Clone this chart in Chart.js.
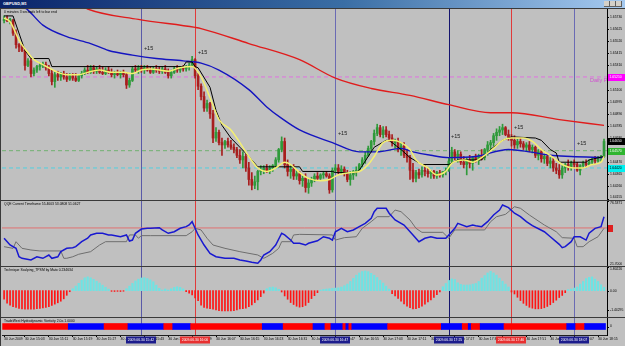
<!DOCTYPE html>
<html>
<head>
<meta charset="utf-8">
<title>GBPUSD,M1</title>
<script src="https://cdn.jsdelivr.net/npm/chart.js@4.4.1/dist/chart.umd.min.js"></script>
<style>
  html, body { margin: 0; padding: 0; background: #3a3a3a; }
  #wrap { position: relative; width: 625px; height: 346px; overflow: hidden; background: #3a3a3a; }
  #titlebar { position: absolute; left: 0; top: 0; width: 625px; height: 8px;
    background: linear-gradient(90deg, #0a246a 0%, #3a6ea5 55%, #a6caf0 100%); }
  #titlebar span { position: absolute; left: 3px; top: 1px; font: bold 4px "Liberation Sans", sans-serif; color: #fff; }
  .btn { position: absolute; top: 1px; width: 5px; height: 5px; background: #d4d0c8; border-right: 1px solid #606060; border-bottom: 1px solid #606060; }
  canvas { position: absolute; left: 1px; background: #c0c0c0; }
</style>
</head>
<body>
<div id="wrap">
  <div id="titlebar"><span>GBPUSD,M1</span>
    <div class="btn" style="left:604px"></div><div class="btn" style="left:610px"></div><div class="btn" style="left:616px"></div>
  </div>
  <canvas id="main" width="624" height="191" style="top:9px"></canvas>
  <canvas id="qqe" width="624" height="65" style="top:201px"></canvas>
  <canvas id="scalp" width="624" height="50" style="top:267px"></canvas>
  <canvas id="hydro" width="624" height="28" style="top:318px"></canvas>
</div>
<script>
// ---- data (main panel prices in pips above 1.64000, one entry per M1 bar) ----
const opens = [
  170,171,169,170,159,149,147,144,131,135, 124,127,130,131,132,129,124,117,123,121,
  124,121,119,122,120,118,122,124,127,125, 129,126,128,125,124,127,125,123,124,123,
  125,123,114,118,128,127,129,127,129,127, 125,128,127,126,128,125,122,125,128,127,
  129,128,130,131,136,122,113,104,94,98, 89,68,73,64,62,65,62,60,58,53,
  49,52,42,32,27,30,39,40,42,39, 42,44,49,58,65,45,39,41,35,37,
  31,33,25,29,32,35,33,36,37,35, 23,40,42,39,41,37,32,36,39,40,
  45,49,53,59,65,72,77,71,75,71, 68,64,65,58,61,53,51,40,33,38,
  36,40,39,37,39,35,38,36,39,40, 48,56,52,54,47,45,49,46,51,49,
  52,51,58,62,64,70,73,75,77,71, 68,66,62,65,63,60,62,58,60,53,
  56,50,52,46,48,42,40,36,42,45, 43,46,45,40,44,46,45,47,49,48,
  51,52
];
const highs = [
  174,174,172,171,162,150,149,145,137,137, 129,131,133,134,134,131,127,125,126,125,
  126,124,124,124,124,123,126,129,131,131, 131,130,131,130,129,130,128,126,127,126,
  127,125,120,130,131,131,131,131,131,130, 130,131,130,130,131,128,127,130,131,130,
  131,131,133,139,137,124,115,108,101,99, 92,77,75,68,66,68,66,63,60,58,
  56,54,47,38,35,40,44,44,45,44, 45,51,59,69,68,49,44,45,40,39,
  35,37,32,34,37,38,37,39,39,37, 42,45,45,44,43,40,39,40,43,46,
  51,56,61,66,75,80,79,78,78,74, 71,67,68,64,64,58,53,46,40,41,
  43,44,42,40,40,39,40,39,42,51, 60,58,57,56,52,51,53,52,54,54,
  58,59,65,66,72,76,78,80,78,75, 71,70,67,68,65,64,65,62,61,58,
  58,54,54,51,51,46,45,44,46,49, 48,49,47,45,48,49,49,51,52,52,
  53,67
];
const lows = [
  168,169,167,157,146,143,143,127,130,121, 122,125,127,129,127,122,114,112,118,118,
  119,117,118,118,117,117,120,123,124,124, 124,124,124,123,123,124,121,120,122,120,
  121,111,112,117,125,124,125,124,126,124, 124,125,124,124,124,120,120,124,125,125,
  126,126,127,130,120,110,101,91,91,85, 64,65,62,53,59,60,58,55,51,46,
  42,39,27,23,24,23,36,37,38,37, 39,42,47,56,42,35,33,32,32,28,
  26,21,20,26,30,31,32,33,34,20, 21,38,37,37,35,30,27,32,35,39,
  43,46,52,56,62,70,69,68,69,65, 61,59,56,53,51,47,32,30,30,33,
  34,35,34,33,33,33,34,34,36,39, 46,49,47,45,42,36,42,40,47,45,
  49,49,53,58,61,66,70,71,70,66, 61,59,59,60,58,57,56,55,51,49,
  47,46,44,42,39,37,33,33,38,40, 40,42,39,36,42,43,44,45,46,47,
  48,51
];
const closes = [
  171,170,171,159,149,147,144,131,135,124, 127,130,131,132,129,124,117,123,121,124,
  121,119,122,120,118,122,124,127,125,129, 126,128,125,124,127,125,123,124,123,125,
  123,114,118,128,127,129,127,129,127,125, 128,127,126,128,125,122,125,128,127,129,
  128,130,131,136,122,113,104,94,98,89, 68,73,64,62,65,62,60,58,53,49,
  52,42,32,27,30,39,40,42,39,42, 44,49,58,65,45,39,41,35,37,31,
  33,25,29,32,35,33,36,37,35,23, 40,42,39,41,37,32,36,39,40,45,
  49,53,59,65,72,77,71,75,71,68, 64,65,58,61,53,51,40,33,38,36,
  40,39,37,39,35,38,36,39,40,48, 56,52,54,47,45,49,46,51,49,52,
  51,58,62,64,70,73,75,77,71,68, 66,62,65,63,60,62,58,60,53,56,
  50,52,46,48,42,40,36,42,45,43, 46,45,40,44,46,45,47,49,48,51,
  52,65
];

// indicator lines on the price panel: [bar, pips]
const yellowMA = [[0,172],[2,169],[5,153],[8,142],[10,136],[12,133],[15,129],[18,125],[21,123],[25,123],
  [28,125],[32,127],[36,125],[40,125],[43,124],[46,127],[49,128],[55,126],[59,129],[63,130],[66,121],
  [69,103],[72,84],[76,75],[79,64],[82,52],[85,42],[88,39],[91,42],[94,47],[96,45],[99,38],[102,33],
  [106,31],[109,32],[112,36],[116,38],[119,39],[122,45],[124,52],[127,64],[130,66],[133,64],[136,58],
  [138,49],[142,42],[145,36],[148,39],[150,46],[154,49],[157,47],[160,51],[164,59],[167,66],[170,68],
  [174,68],[177,65],[180,58],[184,51],[187,45],[191,42],[194,42],[197,45],[200,47],[201,52]];
const stepLine = [[0,174],[3,174],[7,144],[9,137],[15,137],[16,130],[60,130],[61,134],[63,134],[64,130],
  [65,129],[69,112],[71,92],[73,79],[76,68],[79,60],[82,52],[85,43],[99,43],[100,39],[110,39],[111,38],
  [118,38],[119,40],[124,60],[128,66],[129,66],[133,58],[136,51],[140,45],[149,45],[152,49],[160,49],
  [163,58],[167,66],[170,69],[178,68],[180,66],[183,58],[185,55],[186,47],[195,47],[196,49],[201,52]];
const blueMA = [[3,188],[8,179],[13,166],[21,156],[29,150],[35,144],[43,140],[51,137],[60,135],[66,133],
  [72,127],[82,110],[88,95],[93,85],[99,75],[110,64],[119,56],[125,56],[133,59],[137,56],[143,53],
  [149,51],[158,52],[169,58],[176,56],[183,53],[190,52],[201,51]];
const redMA = [[20,192],[28,180],[45,171],[64,164],[66,163],[82,150],[99,136],[111,120],[123,111],
  [136,105],[149,97],[163,90],[170,90],[186,84],[201,79]];

const pivotLevel = 121, greenLevel = 57, cyanLevel = 42;
const priceTicks = ['1.65730','1.65625','1.65520','1.65415','1.65310','1.65205','1.65100','1.64995',
  '1.64890','1.64785','1.64680','1.64575','1.64470','1.64365','1.64260','1.64155'];
const plusBars = [46.5, 64.6, 111.5, 149.4, 170.5, 191.6];
const plusPips = [146, 142, 72, 69, 77, 63];

// QQE panel: [bar, value]
const qqeFast = [[0,45.1],[2,39.4],[4,36.6],[5,29.5],[6,28.2],[9,26.8],[11,29.5],[13,28.2],[15,31.0],[16,28.2],
  [18,29.5],[19,33.8],[21,36.6],[23,37.1],[24,38.0],[26,42.2],[28,45.1],[29,47.9],[31,49.3],[33,49.3],
  [35,47.9],[36,47.9],[39,46.4],[41,47.9],[42,42.8],[43,43.6],[44,49.3],[46,52.9],[48,53.5],[49,53.5],
  [52,54.0],[53,52.1],[55,49.3],[57,50.6],[59,53.5],[61,54.9],[62,56.3],[63,59.1],[64,53.5],[65,47.9],
  [67,39.4],[69,32.4],[71,29.5],[74,28.2],[77,28.2],[79,26.8],[81,25.9],[83,24.8],[85,24.0],[86,26.8],
  [87,31.0],[89,33.8],[91,39.4],[93,49.3],[94,47.9],[96,43.6],[97,40.9],[99,40.9],[101,39.4],[102,40.9],
  [105,43.0],[107,46.4],[109,45.1],[110,43.6],[111,50.6],[113,53.5],[115,50.6],[117,52.1],[119,54.9],
  [121,57.7],[123,62.0],[124,67.5],[125,70.4],[128,70.4],[129,66.2],[131,60.5],[134,56.3],[137,47.9],
  [139,42.2],[141,45.1],[143,46.4],[145,45.1],[148,45.1],[149,47.9],[151,53.5],[152,57.7],[155,54.9],
  [157,56.3],[158,55.7],[160,54.9],[162,59.1],[164,64.7],[166,68.9],[167,73.2],[169,70.9],[171,66.2],
  [173,63.3],[175,59.1],[177,55.7],[181,50.6],[183,46.4],[186,40.0],[187,37.1],[188,38.0],[190,42.2],
  [191,46.4],[193,46.4],[195,43.6],[196,49.3],[198,53.5],[200,54.9],[201,63.3]];
const qqeSlow = [[0,38.0],[3,36.6],[4,42.2],[5,39.4],[6,36.6],[9,35.2],[12,34.4],[19,34.4],[20,28.2],[21,28.2],
  [23,29.5],[25,31.6],[29,33.8],[32,39.4],[34,42.2],[41,42.2],[42,47.9],[44,47.9],[45,45.1],[46,47.3],
  [49,47.3],[61,47.3],[63,50.6],[64,53.5],[66,52.1],[68,45.1],[70,39.4],[74,36.6],[79,33.8],[85,31.0],
  [87,28.2],[88,29.5],[90,32.4],[92,36.6],[93,42.2],[96,42.2],[97,47.9],[99,48.4],[110,47.9],[111,43.6],
  [114,45.6],[118,46.4],[120,53.5],[123,59.1],[125,63.3],[129,63.3],[131,68.9],[133,67.5],[136,60.5],
  [138,53.5],[140,50.1],[147,50.1],[149,45.1],[151,52.1],[161,52.1],[163,59.1],[165,63.3],[168,65.3],
  [171,71.7],[173,70.4],[176,64.7],[181,56.3],[185,50.6],[187,45.6],[191,45.1],[192,38.0],[194,38.0],
  [196,42.2],[199,46.4],[201,53.5]];
const qqeLevel = 53.8;

// scalping histogram, one value per bar
const scalpHist = [
  -0.65,-0.95,-1.10,-1.22,-1.28,-1.34,-1.38,-1.40,-1.41,-1.41, -1.40,-1.37,-1.34,-1.31,-1.28,-1.22,-1.12,-1.02,-0.92,-0.80,
  -0.62,-0.35,-0.08,0.15,0.35,0.56,0.80,0.98,1.05,0.98, 0.86,0.72,0.58,0.42,0.26,0.12,-0.05,-0.06,-0.05,-0.06,
  -0.04,0.15,0.35,0.56,0.74,0.88,0.97,0.99,0.92,0.82, 0.68,0.42,0.18,0.05,0.13,0.05,0.15,0.25,0.30,0.25,
  0.14,-0.08,-0.18,-0.33,-0.55,-0.75,-1.10,-1.28,-1.33,-1.37, -1.40,-1.46,-1.52,-1.54,-1.54,-1.54,-1.54,-1.52,-1.46,-1.39,
  -1.36,-1.32,-1.22,-1.08,-0.90,-0.70,-0.45,-0.18,0.15,0.25, 0.28,0.22,0.10,-0.10,-0.40,-0.65,-0.90,-1.05,-1.18,-1.25,
  -1.22,-1.12,-0.90,-0.60,-0.38,-0.15,0.05,0.10,0.13,0.15, 0.18,0.20,0.22,0.28,0.38,0.50,0.70,0.94,1.18,1.35,
  1.46,1.50,1.45,1.32,1.18,1.00,0.78,0.58,0.35,0.12, -0.22,-0.40,-0.58,-0.80,-1.00,-1.18,-1.29,-1.38,-1.36,-1.30,
  -1.18,-1.02,-0.86,-0.70,-0.52,-0.30,-0.10,0.30,0.55,0.78, 0.90,0.85,0.60,0.48,0.43,0.43,0.44,0.50,0.55,0.70,
  0.95,1.15,1.35,1.48,1.35,1.18,0.95,0.72,0.50,0.28, -0.10,-0.25,-0.50,-0.75,-0.96,-1.12,-1.26,-1.33,-1.38,-1.38,
  -1.36,-1.30,-1.20,-1.07,-0.90,-0.72,-0.52,-0.36,-0.15,0.08, 0.13,0.20,0.28,0.50,0.70,0.92,1.02,1.05,0.88,0.70,
  0.45,0.25
];

// hydrodynamic vorticity state as runs: [bars, +1 blue / -1 red]
const hydroRuns = [[22,-1],[12,1],[8,-1],[12,1],[3,-1],[6,1],[24,-1],[7,1],[10,-1],[4,1],[2,-1],[4,1],
  [1,-1],[1,1],[1,-1],[12,1],[18,-1],[7,1],[2,-1],[1,1],[3,-1],[8,1],[21,-1],[3,1],[3,-1],[7,1]];

// vertical lines and time axis
const vLineBars = [46, 64, 111, 149, 170, 191];
const vLineColors = ['#5a5aa8', '#e03a3a', '#6a6ab4', '#14146e', '#e03a3a', '#6a6ab4'];
const vLineTimes = ['2009.06.30 15:42', '2009.06.30 16:00', '2009.06.30 16:47', '2009.06.30 17:25', '2009.06.30 17:46', '2009.06.30 18:07'];
const vLineBoxColors = ['#1c1c8c', '#e83030', '#1c1c8c', '#1c1c8c', '#e83030', '#1c1c8c'];
const timeTickBars = [0,7,15,23,31,39,47,55,63,71,79,87,95,103,111,119,127,135,143,151,159,167,175,183,191,199];
const timeTickLabels = ['30 Jun 2009','30 Jun 15:03','30 Jun 15:11','30 Jun 15:19','30 Jun 15:27','30 Jun 15:35',
  '30 Jun 15:43','30 Jun 15:51','30 Jun 15:59','30 Jun 16:07','30 Jun 16:15','30 Jun 16:23','30 Jun 16:31',
  '30 Jun 16:39','30 Jun 16:47','30 Jun 16:55','30 Jun 17:03','30 Jun 17:11','30 Jun 17:19','30 Jun 17:27',
  '30 Jun 17:35','30 Jun 17:43','30 Jun 17:51','30 Jun 17:59','30 Jun 18:07','30 Jun 18:15'];

// ---- drawing ----
const FONT = '"Liberation Sans", Arial, sans-serif';
const TINY = '3.4px ' + FONT;
Chart.defaults.font.family = FONT;
Chart.defaults.font.size = 3.4;
Chart.defaults.color = '#000';

const X_MIN = -0.7, X_MAX = 202;
const barIdx = opens.map((_, i) => i);
const pipToPrice = p => (1.64 + p / 10000).toFixed(5);

function rightAxis(min, max) {
  return {
    position: 'right', min: min, max: max,
    ticks: { display: false }, grid: { display: false },
    border: { display: true, color: '#000', width: 1 },
    afterFit: (s) => { s.width = 18; }
  };
}

function options(yMin, yMax) {
  return {
    responsive: false, animation: false, events: [],
    layout: { padding: { left: 1, right: 0, top: 0, bottom: 0 } },
    plugins: { legend: { display: false }, tooltip: { enabled: false } },
    scales: {
      x: { type: 'linear', min: X_MIN, max: X_MAX, display: false, offset: false },
      y: rightAxis(yMin, yMax)
    }
  };
}

function lineSet(pairs, color, width, extra) {
  return Object.assign({
    type: 'line', data: pairs.map(([x, y]) => ({ x: x, y: y })),
    borderColor: color, borderWidth: width, pointRadius: 0, fill: false
  }, extra || {});
}

function levelSet(value, color, dash) {
  return lineSet([[X_MIN, value], [X_MAX, value]], color, 1, { borderDash: dash || [], order: 6 });
}

// vertical lines, panel caption and right-hand labels
function decor(cfg) {
  return {
    id: 'decor',
    beforeDatasetsDraw(chart) {
      const { ctx, chartArea: a, scales: { x } } = chart;
      ctx.save();
      ctx.lineWidth = 1;
      vLineBars.forEach((b, i) => {
        const px = Math.round(x.getPixelForValue(b)) + 0.5;
        ctx.strokeStyle = vLineColors[i];
        ctx.beginPath();
        ctx.moveTo(px, a.top);
        ctx.lineTo(px, a.bottom);
        ctx.stroke();
      });
      ctx.restore();
    },
    afterDraw(chart) {
      const { ctx, chartArea: a, scales: { y } } = chart;
      ctx.save();
      ctx.font = TINY;
      ctx.fillStyle = '#000';
      ctx.textBaseline = 'top';
      if (cfg.title) ctx.fillText(cfg.title, a.left + 2, a.top + 1.5);
      (cfg.labels || []).forEach(([v, t]) => {
        const py = y.getPixelForValue(v);
        let base = 'middle';
        if (py - a.top < 3) base = 'top';
        else if (a.bottom - py < 3) base = 'bottom';
        ctx.textBaseline = base;
        ctx.fillStyle = '#000';
        ctx.fillRect(a.right, Math.round(py), 2, 1);
        ctx.fillText(t, a.right + 3, py);
      });
      (cfg.boxes || []).forEach((b) => {
        const py = Math.round(y.getPixelForValue(b.value));
        ctx.fillStyle = b.bg;
        ctx.fillRect(a.right + 1, py - 3, b.w || 17, 7);
        if (b.text) {
          ctx.fillStyle = b.fg;
          ctx.textBaseline = 'middle';
          ctx.fillText(b.text, a.right + 2.5, py + 0.5);
        }
      });
      if (cfg.extra) cfg.extra(chart);
      ctx.restore();
    }
  };
}

// price panel
const bull = '#2f9a3a', bear = '#a81e1e';
const candleColors = barIdx.map(i => closes[i] >= opens[i] ? bull : bear);

new Chart(document.getElementById('main'), {
  type: 'bar',
  data: {
    datasets: [
      { type: 'bar', order: 4, grouped: false, barThickness: 1,
        data: barIdx.map(i => ({ x: i, y: [lows[i], highs[i]] })), backgroundColor: candleColors },
      { type: 'bar', order: 3, grouped: false, barThickness: 2,
        data: barIdx.map(i => ({ x: i, y: [opens[i], closes[i]] })), backgroundColor: candleColors },
      levelSet(pivotLevel, '#e070e0', [4, 3]),
      levelSet(greenLevel, '#70b070', [4, 3]),
      levelSet(cyanLevel, '#50d0e0', [4, 3]),
      lineSet(redMA, '#e01c1c', 1.4, { order: 2, cubicInterpolationMode: 'monotone' }),
      lineSet(blueMA, '#1414c0', 1.4, { order: 2, cubicInterpolationMode: 'monotone' }),
      lineSet(stepLine, '#000000', 1, { order: 1 }),
      lineSet(yellowMA, '#f4f070', 1.5, { order: 0, cubicInterpolationMode: 'monotone' })
    ]
  },
  options: options(14.2, 180),
  plugins: [decor({
    title: '0 minutes 3 seconds left to bar end',
    labels: priceTicks.map(t => [(parseFloat(t) - 1.64) * 10000, t]),
    boxes: [
      { value: pivotLevel, bg: '#ff00ff', fg: '#ffffff', text: pipToPrice(pivotLevel) },
      { value: greenLevel, bg: '#2fb52f', fg: '#ffffff', text: pipToPrice(greenLevel) },
      { value: cyanLevel, bg: '#00f0f0', fg: '#000000', text: pipToPrice(cyanLevel) },
      { value: closes[closes.length - 1], bg: '#000000', fg: '#ffffff', text: pipToPrice(closes[closes.length - 1]) }
    ],
    extra(chart) {
      const { ctx, chartArea: a, scales: { x, y } } = chart;
      ctx.font = '5.5px ' + FONT;
      ctx.fillStyle = '#202020';
      ctx.textBaseline = 'middle';
      plusBars.forEach((b, i) => ctx.fillText('+15', x.getPixelForValue(b) + 1, y.getPixelForValue(plusPips[i])));
      ctx.save();
      ctx.beginPath();
      ctx.rect(a.left, a.top, a.right - a.left, a.bottom - a.top);
      ctx.clip();
      ctx.fillStyle = '#d050d0';
      ctx.textBaseline = 'top';
      ctx.fillText('Daily Pivot', a.right - 17, y.getPixelForValue(pivotLevel) + 0.5);
      ctx.restore();
    }
  })]
});

// QQE panel
new Chart(document.getElementById('qqe'), {
  type: 'line',
  data: {
    datasets: [
      levelSet(qqeLevel, '#e07070'),
      lineSet(qqeSlow, '#6e6e6e', 1, { order: 1 }),
      lineSet(qqeFast, '#1818d0', 1.5, { order: 0 })
    ]
  },
  options: options(21.7, 76.5371),
  plugins: [decor({
    title: 'QQE Current Timeframe 55.4603 53.0808 51.0627',
    labels: [[76.5371, '76.5371'], [21.7, '21.7000']],
    boxes: [{ value: qqeLevel, bg: '#e02020', w: 5 }]
  })]
});

// scalping histogram panel
new Chart(document.getElementById('scalp'), {
  type: 'bar',
  data: {
    datasets: [
      { grouped: false, barThickness: 1, backgroundColor: '#ff1414',
        data: barIdx.filter(i => scalpHist[i] < 0).map(i => ({ x: i, y: scalpHist[i] })) },
      { grouped: false, barThickness: 1.6, backgroundColor: '#6fe3e3',
        data: barIdx.filter(i => scalpHist[i] >= 0).map(i => ({ x: i, y: scalpHist[i] })) }
    ]
  },
  options: options(-2.0, 1.80226),
  plugins: [decor({
    title: 'Technique Scalping_TPSM by Mato 0.234634',
    labels: [[1.80226, '1.80226'], [0, '0.00'], [-1.44295, '-1.44295']]
  })]
});

// hydrodynamic vorticity panel with the time axis
let runStart = 0;
const hydroData = hydroRuns.map(([len]) => {
  const d = { x: [runStart - 0.5, runStart + len - 0.5], y: 1 };
  runStart += len;
  return d;
});
const hydroOpts = options(0, 2);
hydroOpts.indexAxis = 'y';
hydroOpts.scales.x = {
  type: 'linear', min: X_MIN, max: X_MAX, offset: false, position: 'bottom',
  grid: { display: true, drawOnChartArea: false, drawTicks: true, tickLength: 2, color: '#000' },
  border: { display: true, color: '#202020', width: 1 },
  ticks: { autoSkip: false, maxRotation: 0, minRotation: 0, align: 'start', padding: 0.5,
    font: { size: 3.4 }, callback: (v, i) => timeTickLabels[i] },
  afterBuildTicks: (axis) => { axis.ticks = timeTickBars.map(v => ({ value: v })); },
  afterFit: (s) => { s.height = 11; }
};
new Chart(document.getElementById('hydro'), {
  type: 'bar',
  data: {
    datasets: [{
      grouped: false, barThickness: 6, data: hydroData,
      backgroundColor: hydroRuns.map(r => r[1] > 0 ? '#0000ff' : '#ff0000')
    }]
  },
  options: hydroOpts,
  plugins: [decor({
    title: 'TradeWest Hydrodynamic Vorticity 2.0a 1.0000',
    labels: [[2, '2'], [0, '0']],
    extra(chart) {
      const { ctx, chartArea: a, scales: { x } } = chart;
      ctx.textBaseline = 'middle';
      ctx.textAlign = 'center';
      vLineBars.forEach((b, i) => {
        const px = Math.round(x.getPixelForValue(b));
        ctx.fillStyle = vLineBoxColors[i];
        ctx.fillRect(px - 15, a.bottom + 1.5, 30, 7);
        ctx.fillStyle = '#ffffff';
        ctx.fillText(vLineTimes[i], px, a.bottom + 5.2);
      });
    }
  })]
});
</script>
</body>
</html>
